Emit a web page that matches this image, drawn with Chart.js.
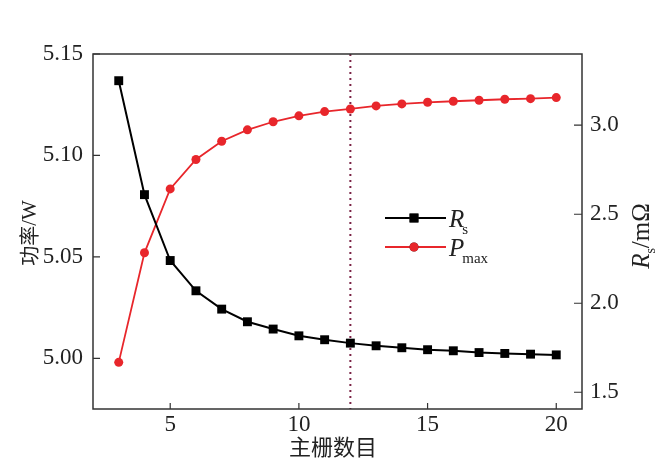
<!DOCTYPE html>
<html>
<head>
<meta charset="utf-8">
<script src="https://cdn.jsdelivr.net/npm/chart.js@4.4.1/dist/chart.umd.min.js"></script>
<style>
  html, body { margin: 0; padding: 0; background: #fff; }
  #wrap { width: 670px; height: 466px; position: relative; }
</style>
</head>
<body>
<div id="wrap"><canvas id="c" width="670" height="466"></canvas></div>
<script>
// Number of main busbars
const busbars = [3, 4, 5, 6, 7, 8, 9, 10, 11, 12, 13, 14, 15, 16, 17, 18, 19, 20];
// Series resistance Rs (mΩ), right axis
const rsValues = [3.25, 2.61, 2.24, 2.07, 1.967, 1.896, 1.855, 1.817, 1.795, 1.776,
                  1.761, 1.750, 1.739, 1.733, 1.723, 1.718, 1.714, 1.710];
// Maximum power Pmax (W), left axis
const pmaxValues = [4.998, 5.052, 5.0835, 5.098, 5.107, 5.1126, 5.1166, 5.1195, 5.1216, 5.1229,
                    5.1244, 5.1254, 5.1262, 5.1267, 5.1272, 5.1277, 5.1280, 5.1285];
// Axis ticks
const xTicks = [5, 10, 15, 20];
const powerTicks = [5.00, 5.05, 5.10, 5.15];
const rsTicks = [1.5, 2.0, 2.5, 3.0];
// Marked optimum busbar count
const markedBusbar = [12];

const SERIF = '"Liberation Serif", "Times New Roman", serif';
const CJK = '"Noto Sans CJK SC", sans-serif';
const TEXT = '#222';
const RED = '#e8262b';

function pts(ys) { return busbars.map((x, i) => ({ x: x, y: ys[i] })); }
function fixTicks(list) { return s => { s.ticks = list.map(v => ({ value: v })); }; }

// Frame, inward tick marks, marker line, axis titles and legend
const decor = {
  id: 'decor',
  beforeDatasetsDraw(chart) {
    const ctx = chart.ctx, a = chart.chartArea, x = chart.scales.x;
    ctx.save();
    ctx.strokeStyle = '#7b2346';
    ctx.lineWidth = 2;
    ctx.setLineDash([2, 4]);
    markedBusbar.forEach(v => {
      const px = x.getPixelForValue(v);
      ctx.beginPath();
      ctx.moveTo(px, a.top);
      ctx.lineTo(px, a.bottom);
      ctx.stroke();
    });
    ctx.restore();
  },
  afterDraw(chart) {
    const ctx = chart.ctx, a = chart.chartArea, s = chart.scales;
    ctx.save();
    ctx.strokeStyle = '#333';
    ctx.lineWidth = 1.5;
    ctx.strokeRect(a.left, a.top, a.right - a.left, a.bottom - a.top);
    ctx.lineWidth = 1.2;
    ctx.beginPath();
    xTicks.forEach(v => {
      const p = s.x.getPixelForValue(v);
      ctx.moveTo(p, a.bottom); ctx.lineTo(p, a.bottom - 6);
    });
    powerTicks.forEach(v => {
      const p = s.y.getPixelForValue(v);
      ctx.moveTo(a.left, p); ctx.lineTo(a.left + 7, p);
    });
    rsTicks.forEach(v => {
      const p = s.y1.getPixelForValue(v);
      ctx.moveTo(a.right, p); ctx.lineTo(a.right - 8, p);
    });
    ctx.stroke();

    ctx.fillStyle = TEXT;
    ctx.textBaseline = 'middle';
    // x title
    ctx.textAlign = 'center';
    ctx.font = '22px ' + CJK;
    ctx.fillText('主栅数目', 333, 447);

    // left title
    ctx.save();
    ctx.translate(29, 233);
    ctx.rotate(-Math.PI / 2);
    ctx.textAlign = 'left';
    ctx.font = '20px ' + CJK;
    const w1 = ctx.measureText('功率').width;
    ctx.font = '21px ' + SERIF;
    const w2 = ctx.measureText('/W').width;
    let x0 = -(w1 + w2) / 2;
    ctx.font = '20px ' + CJK;
    ctx.fillText('功率', x0, 0);
    ctx.font = '21px ' + SERIF;
    ctx.fillText('/W', x0 + w1, 1);
    ctx.restore();

    // right title
    ctx.save();
    ctx.translate(641, 236);
    ctx.rotate(-Math.PI / 2);
    ctx.textAlign = 'left';
    ctx.textBaseline = 'alphabetic';
    ctx.font = 'italic 25px ' + SERIF;
    const rW = ctx.measureText('R').width;
    ctx.font = '14px ' + SERIF;
    const sW = ctx.measureText('s').width;
    ctx.font = '25px ' + SERIF;
    const uW = ctx.measureText('/mΩ').width;
    x0 = -(rW + sW + uW) / 2;
    ctx.font = 'italic 25px ' + SERIF;
    ctx.fillText('R', x0, 8);
    ctx.font = '14px ' + SERIF;
    ctx.fillText('s', x0 + rW, 14);
    ctx.font = '25px ' + SERIF;
    ctx.fillText('/mΩ', x0 + rW + sW, 8);
    ctx.restore();

    // legend
    const rows = [
      { ds: chart.data.datasets[0], y: 218, main: 'R', sub: 's' },
      { ds: chart.data.datasets[1], y: 247, main: 'P', sub: 'max' }
    ];
    rows.forEach(r => {
      ctx.strokeStyle = r.ds.borderColor;
      ctx.lineWidth = r.ds.borderWidth;
      ctx.setLineDash([]);
      ctx.beginPath();
      ctx.moveTo(385, r.y); ctx.lineTo(446, r.y);
      ctx.stroke();
      Chart.helpers.drawPoint(ctx, {
        pointStyle: r.ds.pointStyle, radius: r.ds.pointRadius,
        borderWidth: 0, rotation: 0
      }, 414, r.y);
      ctx.fillStyle = r.ds.backgroundColor;
      ctx.fill();
      ctx.fillStyle = TEXT;
      ctx.textAlign = 'left';
      ctx.textBaseline = 'alphabetic';
      ctx.font = 'italic 25px ' + SERIF;
      ctx.fillText(r.main, 449, r.y + 9);
      const mw = ctx.measureText(r.main).width;
      ctx.font = '15px ' + SERIF;
      ctx.fillText(r.sub, 449 + mw - 2, r.y + 16);
    });
    ctx.restore();
  }
};

new Chart(document.getElementById('c'), {
  type: 'line',
  data: {
    datasets: [
      {
        label: 'Rs',
        data: pts(rsValues),
        yAxisID: 'y1',
        borderColor: '#000',
        backgroundColor: '#000',
        borderWidth: 2,
        pointStyle: 'rect',
        pointRadius: 6.3,
        pointHoverRadius: 6.3,
        pointBorderWidth: 0,
        tension: 0
      },
      {
        label: 'Pmax',
        data: pts(pmaxValues),
        yAxisID: 'y',
        borderColor: RED,
        backgroundColor: RED,
        borderWidth: 1.8,
        pointStyle: 'circle',
        pointRadius: 4.5,
        pointHoverRadius: 4.5,
        pointBorderWidth: 0,
        tension: 0
      }
    ]
  },
  options: {
    responsive: false,
    animation: false,
    events: [],
    layout: { padding: { top: 54, left: 0, right: 0, bottom: 0 } },
    plugins: { legend: { display: false }, tooltip: { enabled: false } },
    scales: {
      x: {
        type: 'linear',
        min: 2, max: 21,
        afterBuildTicks: fixTicks(xTicks),
        afterFit: s => { s.height = 57; },
        grid: { display: false, drawTicks: false },
        border: { display: false },
        ticks: { color: TEXT, padding: 2, font: { family: SERIF, size: 23 } }
      },
      y: {
        position: 'left',
        min: 4.975, max: 5.15,
        afterBuildTicks: fixTicks(powerTicks),
        afterFit: s => { s.width = 93; },
        grid: { display: false, drawTicks: false },
        border: { display: false },
        ticks: { color: TEXT, padding: 10, font: { family: SERIF, size: 23 },
                 callback: v => Number(v).toFixed(2) }
      },
      y1: {
        position: 'right',
        min: 1.406, max: 3.40,
        afterBuildTicks: fixTicks(rsTicks),
        afterFit: s => { s.width = 88; },
        grid: { display: false, drawTicks: false },
        border: { display: false },
        ticks: { color: TEXT, padding: 8, font: { family: SERIF, size: 23 },
                 callback: v => Number(v).toFixed(1) }
      }
    }
  },
  plugins: [decor]
});
</script>
</body>
</html>
